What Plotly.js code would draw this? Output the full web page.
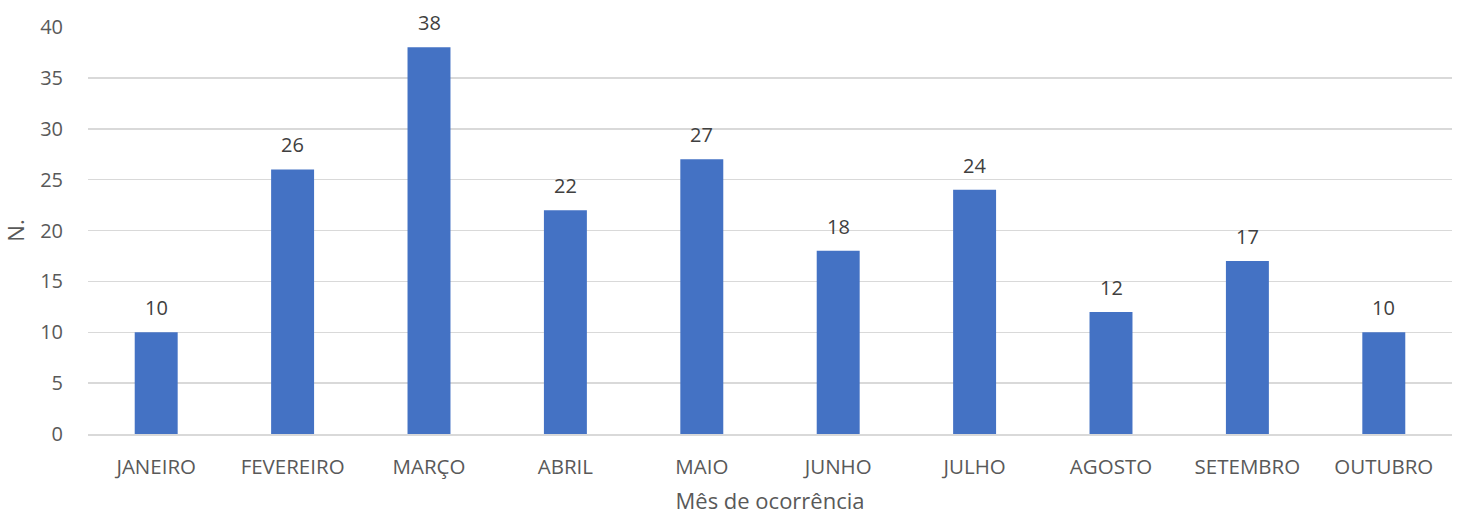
<!DOCTYPE html>
<html><head><meta charset="utf-8">
<script src="https://cdn.plot.ly/plotly-3.0.1.min.js"></script>
<style>html,body{margin:0;padding:0;background:#fff}#c{width:1462px;height:515px}</style>
</head><body><div id="c"></div>
<script>
const months = ["JANEIRO","FEVEREIRO","MARÇO","ABRIL","MAIO","JUNHO","JULHO","AGOSTO","SETEMBRO","OUTUBRO"];
const counts = [10,26,38,22,27,18,24,12,17,10];
const yTicks = [0,5,10,15,20,25,30,35,40];
const fontFam = "'Open Sans', sans-serif";
const labels = months.map((m,i)=>({x:m,y:counts[i],text:String(counts[i]),showarrow:false,
  yanchor:'bottom',yshift:9,font:{family:fontFam,size:20,color:'#404040'}}));
Plotly.newPlot('c',[{
  type:'bar', x:months, y:counts,
  marker:{color:'#4472c4'},
  hoverinfo:'none'
}],{
  width:1462,height:515,
  margin:{l:88,r:10,t:27,b:81},
  paper_bgcolor:'#fff',plot_bgcolor:'#fff',
  bargap:0.685,
  font:{family:fontFam,size:20,color:'#595959'},
  annotations:labels,
  xaxis:{showgrid:false,showline:true,linecolor:'#d9d9d9',linewidth:1.5,
    ticks:'outside',ticklen:14,tickcolor:'rgba(0,0,0,0)',
    tickfont:{size:20.5,color:'#595959'},
    title:{text:'Mês de ocorrência',font:{size:22,color:'#595959'},standoff:18}},
  yaxis:{range:[0,40],tickvals:yTicks,showgrid:true,gridcolor:'#d9d9d9',gridwidth:1.5,
    zeroline:false,showline:false,ticks:'outside',ticklen:20,tickcolor:'rgba(0,0,0,0)',
    tickfont:{size:20,color:'#595959'},
    title:{text:'N.',font:{size:22,color:'#595959'},standoff:14}},
  showlegend:false
},{staticPlot:true});
</script></body></html>
